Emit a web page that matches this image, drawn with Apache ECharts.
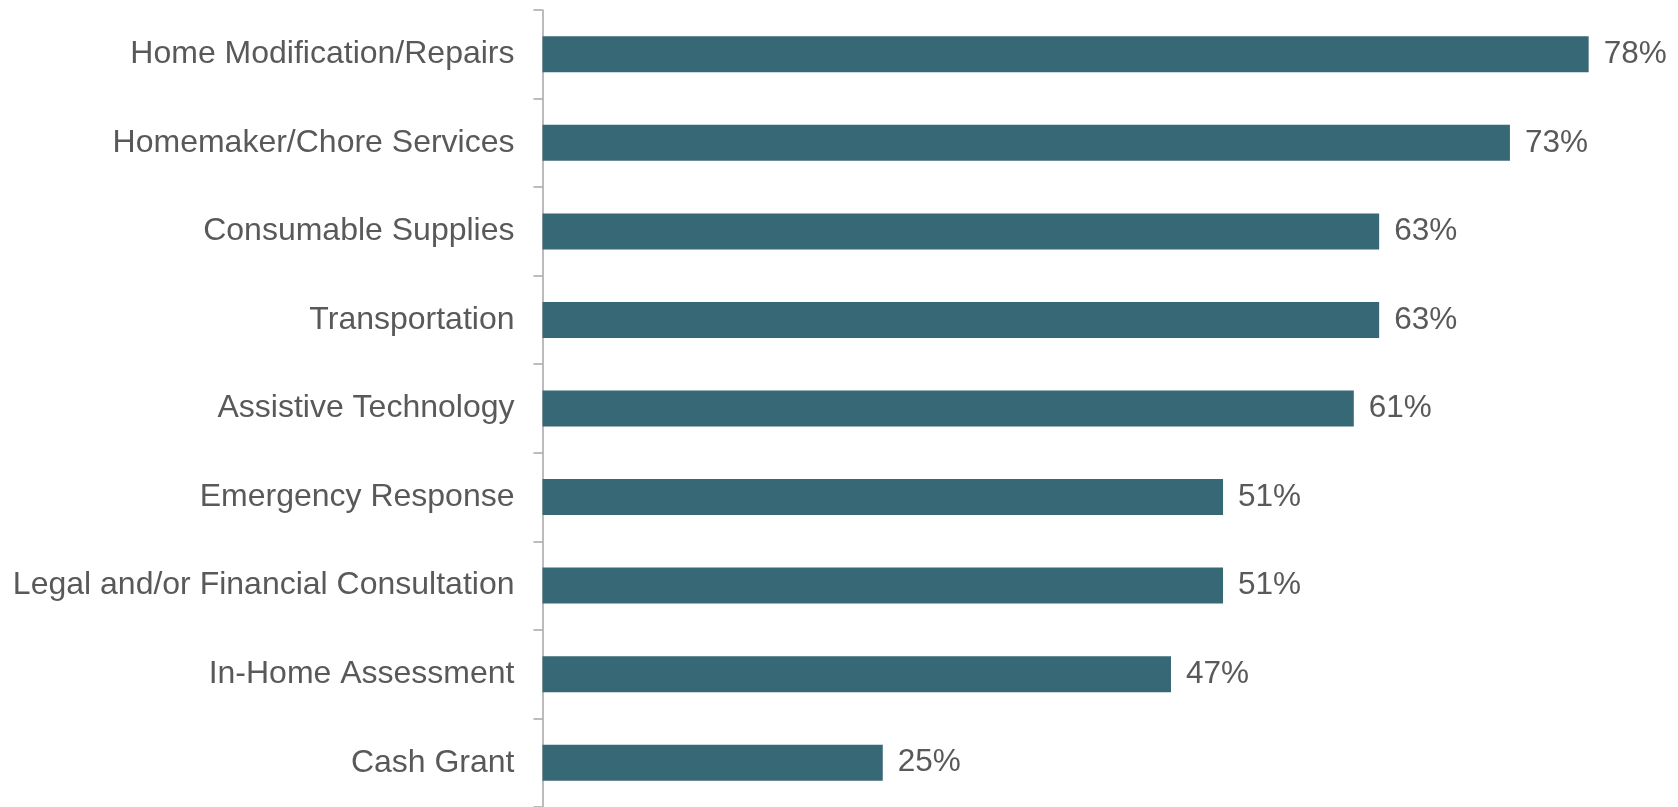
<!DOCTYPE html>
<html>
<head>
<meta charset="utf-8">
<script src="https://cdn.jsdelivr.net/npm/echarts@6/dist/echarts.min.js"></script>
<style>
html,body{margin:0;padding:0;background:#fff;}
#chart{width:1678px;height:807px;}
</style>
</head>
<body>
<div id="chart"></div>
<script>
const categories = [
  "Home Modification/Repairs",
  "Homemaker/Chore Services",
  "Consumable Supplies",
  "Transportation",
  "Assistive Technology",
  "Emergency Response",
  "Legal and/or Financial Consultation",
  "In-Home Assessment",
  "Cash Grant"
];
const values = [78.4, 72.5, 62.7, 62.7, 60.8, 51.0, 51.0, 47.1, 25.5];
const valueLabels = ["78%", "73%", "63%", "63%", "61%", "51%", "51%", "47%", "25%"];

const chart = echarts.init(document.getElementById('chart'), null, {renderer: 'canvas'});
chart.setOption({
  animation: false,
  grid: {left: 542.5, top: 10, height: 800, width: 1067.5, containLabel: false},
  xAxis: {
    type: 'value', min: 0, max: 80, show: false
  },
  yAxis: {
    type: 'category',
    data: categories,
    inverse: true,
    axisLine: {show: true, lineStyle: {color: '#a6a6a6', width: 1.5}},
    axisTick: {show: true, length: 9, lineStyle: {color: '#a6a6a6', width: 1.5}},
    axisLabel: {
      margin: 28,
      color: '#595959',
      fontFamily: 'Liberation Sans, Arial, sans-serif',
      fontSize: 32,
      padding: [4, 0, 0, 0]
    },
    splitLine: {show: false}
  },
  series: [{
    type: 'bar',
    data: values,
    barWidth: 36,
    itemStyle: {color: '#376876'},
    label: {
      show: true,
      position: 'right',
      distance: 15,
      color: '#595959',
      fontFamily: 'Liberation Sans, Arial, sans-serif',
      fontSize: 31.5,
      padding: [4, 0, 0, 0],
      formatter: p => valueLabels[p.dataIndex]
    }
  }]
});
</script>
</body>
</html>
